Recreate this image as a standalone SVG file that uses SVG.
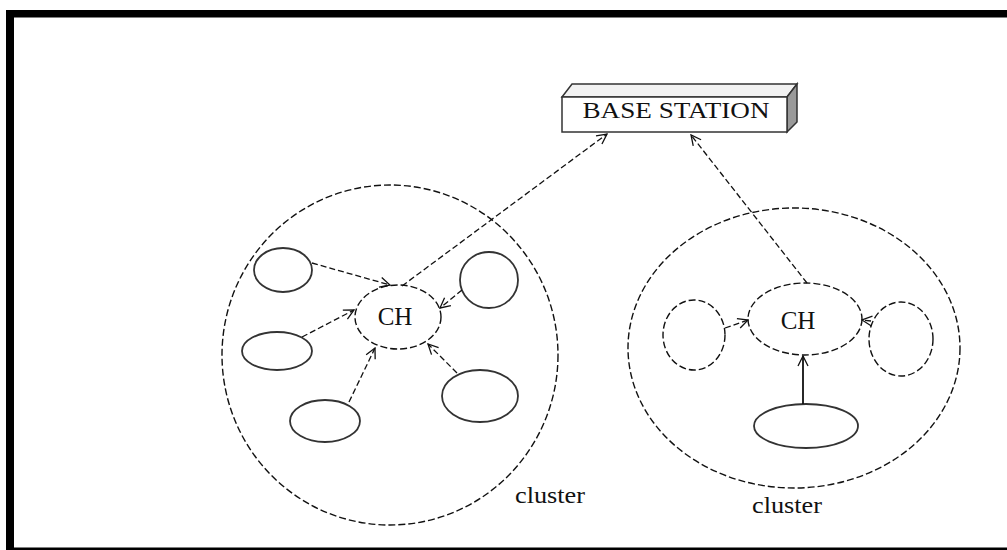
<svg xmlns="http://www.w3.org/2000/svg" width="1007" height="550" viewBox="0 0 1007 550">
<style>
.lbl{font-family:"Liberation Serif","Times New Roman",serif;fill:#111}
.dash{fill:none;stroke:#111;stroke-width:1.4;stroke-dasharray:7 3}
.solid{fill:none;stroke:#333;stroke-width:1.8}
.conn{fill:none;stroke:#111;stroke-width:1.3;stroke-dasharray:6 3}
</style>
<defs>
<marker id="arr" viewBox="0 0 12 12" refX="11" refY="6" markerWidth="12" markerHeight="12" markerUnits="userSpaceOnUse" orient="auto">
<path d="M1,1 L11,6 L1,11" fill="none" stroke="#111" stroke-width="1.3"/>
</marker>
</defs>
<rect x="0" y="0" width="1007" height="550" fill="#fff"/>
<g id="frame">
<rect x="6" y="10" width="1001" height="7.5" fill="#000"/>
<rect x="6" y="10" width="8" height="540" fill="#000"/>
<rect x="6" y="547.5" width="1001" height="2.5" fill="#000"/>
</g>
<g id="base-station">
<polygon points="562,97 572,84 797,84 787,97" fill="#f2f2f2" stroke="#333" stroke-width="1.5"/>
<polygon points="787,97 797,84 797,122 787,132" fill="#9a9a9a" stroke="#333" stroke-width="1.5"/>
<rect x="562" y="97" width="225" height="35" fill="#fff" stroke="#333" stroke-width="1.5"/>
<text class="lbl" x="676" y="118" font-size="24" text-anchor="middle" textLength="187" lengthAdjust="spacingAndGlyphs">BASE STATION</text>
</g>
<g id="cluster-left">
<ellipse class="dash" cx="390" cy="355" rx="168" ry="170"/>
<text class="lbl" x="515" y="503" font-size="24" textLength="70" lengthAdjust="spacingAndGlyphs">cluster</text>
</g>
<g id="ch-left">
<ellipse class="dash" cx="398" cy="317" rx="43" ry="32"/>
<text class="lbl" x="395" y="325" font-size="25" text-anchor="middle">CH</text>
</g>
<g id="node-l1"><ellipse class="solid" cx="283" cy="270" rx="29" ry="22"/></g>
<g id="node-l2"><ellipse class="solid" cx="489" cy="280" rx="29" ry="28"/></g>
<g id="node-l3"><ellipse class="solid" cx="277" cy="351" rx="35" ry="19"/></g>
<g id="node-l4"><ellipse class="solid" cx="325" cy="421" rx="35" ry="21"/></g>
<g id="node-l5"><ellipse class="solid" cx="480" cy="396" rx="38" ry="26"/></g>
<g id="cluster-right">
<ellipse class="dash" cx="794" cy="348" rx="166" ry="140"/>
<text class="lbl" x="752" y="513" font-size="24" textLength="70" lengthAdjust="spacingAndGlyphs">cluster</text>
</g>
<g id="ch-right">
<ellipse class="dash" cx="805" cy="319" rx="57" ry="36"/>
<text class="lbl" x="798" y="329" font-size="25" text-anchor="middle">CH</text>
</g>
<g id="node-r1"><ellipse class="dash" cx="694" cy="335" rx="31" ry="35"/></g>
<g id="node-r2"><ellipse class="dash" cx="901" cy="339" rx="32" ry="37"/></g>
<g id="node-r3"><ellipse class="solid" cx="806" cy="426" rx="52" ry="22"/></g>
<g id="connectors">
<line class="conn" x1="312" y1="263" x2="390" y2="285" marker-end="url(#arr)"/>
<line class="conn" x1="402" y1="286" x2="607" y2="134" marker-end="url(#arr)"/>
<line class="conn" x1="462" y1="290" x2="440" y2="308" marker-end="url(#arr)"/>
<line class="conn" x1="302" y1="337" x2="354" y2="310" marker-end="url(#arr)"/>
<line class="conn" x1="349" y1="402" x2="375" y2="348" marker-end="url(#arr)"/>
<line class="conn" x1="457" y1="373" x2="428" y2="344" marker-end="url(#arr)"/>
<line class="conn" x1="807" y1="283" x2="691" y2="135" marker-end="url(#arr)"/>
<line class="conn" x1="725" y1="328" x2="748" y2="320" marker-end="url(#arr)"/>
<line class="conn" x1="871" y1="321" x2="862" y2="320" marker-end="url(#arr)"/>
<line x1="803" y1="404" x2="803" y2="356" stroke="#111" stroke-width="1.8" marker-end="url(#arr)"/>
</g>
</svg>
